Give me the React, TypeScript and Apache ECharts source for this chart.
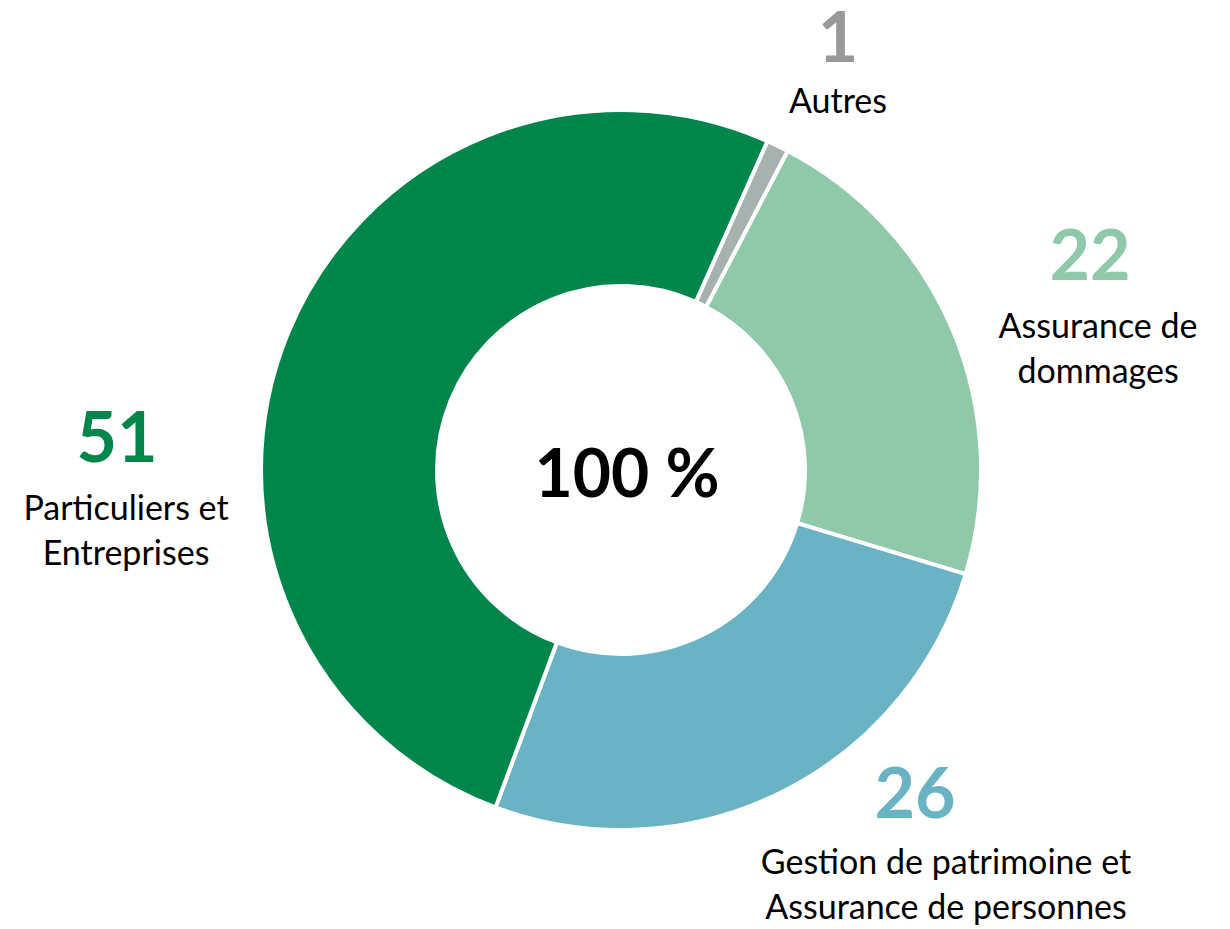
import React, { useEffect, useRef } from "react";
import * as echarts from "echarts";

const categories = [
  "Autres",
  "Assurance de\ndommages",
  "Gestion de patrimoine et\nAssurance de personnes",
  "Particuliers et\nEntreprises",
];
const values = [1, 22, 26, 51];
const sliceColors = ["#A7B1AF", "#8FC9A9", "#69B3C5", "#00864B"];
const valueColors = ["#999999", "#8FC9A9", "#69B3C5", "#00864B"];
const centerLabel = "100 %";

// label block anchors (top-center) in pixels
const labelAnchors: [number, number][] = [
  [838, -7],
  [1098, 204],
  [946, 744],
  [126, 386],
];
// per-label styling of the big number line
const valueLineHeights = [84, 98, 94, 98];
const valueShiftLeft = [0, 8, 31, 9];

const FONT = "Lato, 'Open Sans', sans-serif";

export default function App() {
  const ref = useRef<HTMLDivElement>(null);
  useEffect(() => {
    const chart = echarts.init(ref.current!, null, { renderer: "svg" });
    const rich: any = {
      n: { fontFamily: FONT, fontSize: 34, lineHeight: 45, color: "#000000", align: "center" },
    };
    values.forEach((_, i) => {
      rich["v" + i] = {
        fontFamily: FONT,
        fontWeight: "bold",
        fontSize: 70,
        lineHeight: valueLineHeights[i],
        color: valueColors[i],
        align: "center",
        padding: [0, valueShiftLeft[i] * 2, 0, 0],
      };
    });
    chart.setOption({
      animation: false,
      backgroundColor: "#ffffff",
      graphic: [
        {
          type: "text",
          x: 627,
          y: 471,
          style: {
            text: centerLabel,
            fill: "#000000",
            font: `bold 66px ${FONT}`,
            align: "center",
            verticalAlign: "middle",
          },
        },
      ],
      series: [
        {
          type: "pie",
          center: [621, 470],
          radius: [184, 360],
          startAngle: 66,
          clockwise: true,
          avoidLabelOverlap: false,
          itemStyle: { borderColor: "#ffffff", borderWidth: 4 },
          labelLine: { show: false },
          label: {
            show: true,
            position: "outside",
            formatter: (p: any) =>
              `{v${p.dataIndex}|${p.value}}\n{n|${String(p.name).split("\n").join("}\n{n|")}}`,
            rich,
          },
          labelLayout: (params: any) => {
            const a = labelAnchors[params.dataIndex];
            return { x: a[0], y: a[1], align: "center", verticalAlign: "top" };
          },
          data: categories.map((name, i) => ({
            name,
            value: values[i],
            itemStyle: { color: sliceColors[i] },
          })),
        },
      ],
    });
    return () => chart.dispose();
  }, []);
  return (
    <div
      ref={ref}
      style={{ position: "fixed", left: 0, top: 0, width: 1230, height: 929 }}
    />
  );
}
